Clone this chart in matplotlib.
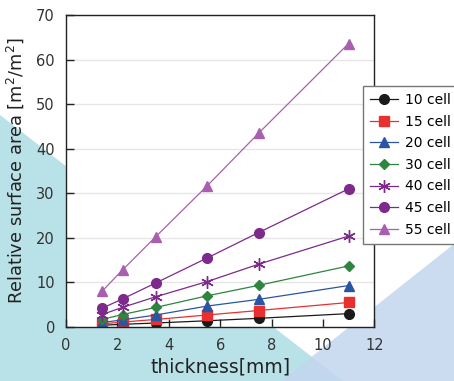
import matplotlib
matplotlib.use("Agg")
import matplotlib.pyplot as plt
from matplotlib.patches import Polygon

thickness = [1.4, 2.2, 3.5, 5.5, 7.5, 11.0]
labels = ["10 cell", "15 cell", "20 cell", "30 cell", "40 cell", "45 cell", "55 cell"]
c10 = [0.4, 0.6, 0.9, 1.4, 1.95, 3.0]
c15 = [0.7, 1.1, 1.7, 2.7, 3.7, 5.5]
c20 = [1.0, 1.6, 2.7, 4.7, 6.2, 9.3]
c30 = [1.7, 2.8, 4.4, 7.0, 9.35, 13.7]
c40 = [2.8, 4.4, 6.8, 10.2, 14.1, 20.4]
c45 = [4.2, 6.3, 9.9, 15.5, 21.2, 31.0]
c55 = [8.0, 12.8, 20.3, 31.7, 43.5, 63.6]
series = [c10, c15, c20, c30, c40, c45, c55]
colors = ["#1a1a1a", "#e8302e", "#2a55a5", "#2e8540", "#7b2a8a", "#7d2a8c", "#a95fb0"]
markers = ["o", "s", "^", "D", (6, 2, 0), "o", "^"]
msizes = [7, 7, 7.5, 5.5, 9, 7, 7.5]

W, H = 454, 381
fig = plt.figure(figsize=(W / 100, H / 100), dpi=100)
fig.patch.set_facecolor("white")

def fp(x, y):
    return (x / W, 1 - y / H)

cyan = Polygon([fp(0, 115), fp(343, 381), fp(0, 381)], closed=True,
               transform=fig.transFigure, facecolor="#b9e2e8", edgecolor="none", zorder=-2)
blue = Polygon([fp(454, 244), fp(281, 381), fp(454, 381)], closed=True,
               transform=fig.transFigure, facecolor="#c3d6ee", edgecolor="none", alpha=0.85, zorder=-1)
fig.patches.extend([cyan, blue])

ax = fig.add_axes([66 / W, 1 - 327 / H, (374.3 - 66) / W, (327 - 15) / H])
ax.set_zorder(1)
ax.set_facecolor("white")
for s, lab, c, m, ms in zip(series, labels, colors, markers, msizes):
    kw = dict(color=c, marker=m, markersize=ms, linewidth=0.9, label=lab)
    if isinstance(m, tuple):
        kw.update(markeredgewidth=1.0, markeredgecolor=c)
    else:
        kw.update(markeredgecolor=c, markerfacecolor=c)
    ax.plot(thickness, s, **kw)

ax.set_xlim(0, 12)
ax.set_ylim(0, 70)
ax.set_xticks(range(0, 13, 2))
ax.set_yticks(range(0, 71, 10))
ax.grid(axis="y", color="#e6e6e6", linewidth=1.0)
ax.set_axisbelow(True)
ax.tick_params(direction="in", length=6, width=1, colors="#222222", labelcolor="#333333",
               labelsize=10.5, pad=8)
for sp in ax.spines.values():
    sp.set_color("#222222")
    sp.set_linewidth(1.0)

ax.set_xlabel("thickness[mm]", fontsize=13.5, color="#222222", labelpad=3)
ax.set_ylabel("Relative surface area [m$^2$/m$^2$]", fontsize=12.8, color="#222222", labelpad=7)

leg = fig.legend(loc="upper left", bbox_to_anchor=fp(363, 86), borderaxespad=0, fontsize=10,
                 frameon=True, fancybox=False, edgecolor="#777777", framealpha=1,
                 handlelength=2.0, borderpad=0.5, labelspacing=0.55, handletextpad=0.5)
leg.get_frame().set_linewidth(1.0)
leg.set_zorder(5)

fig.savefig("out.png", dpi=100)
